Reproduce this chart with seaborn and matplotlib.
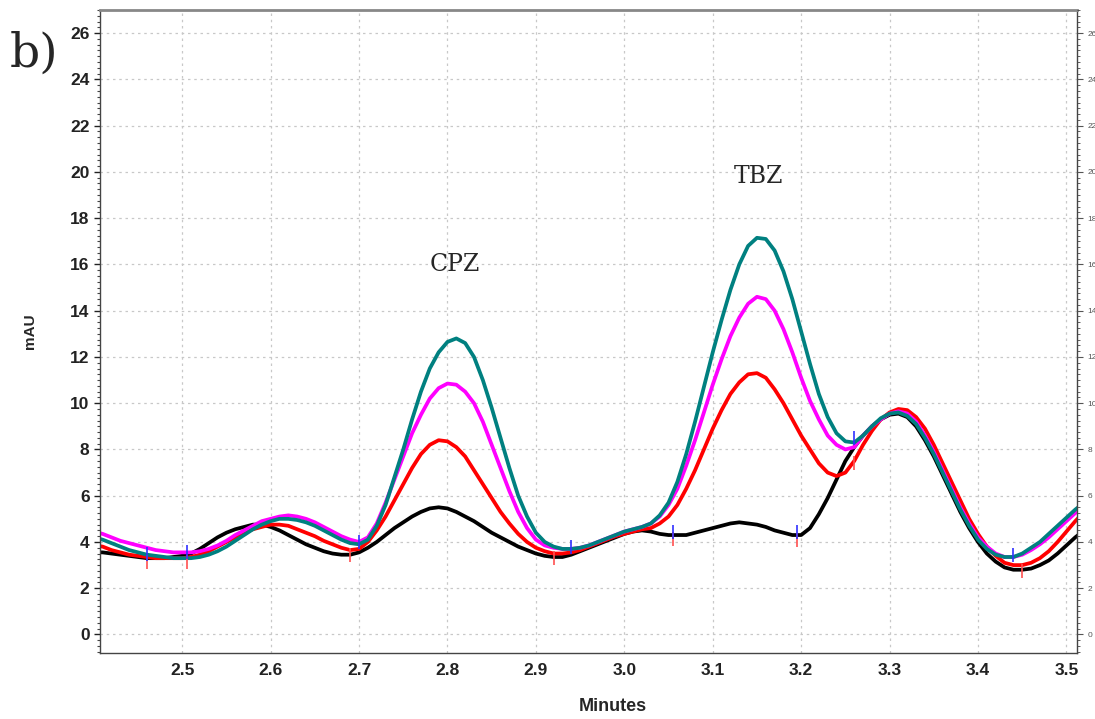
import numpy as np
import pandas as pd
import seaborn as sns
import matplotlib.pyplot as plt
from matplotlib.ticker import MultipleLocator

# retention time grid (minutes)
minutes = [round(2.40 + 0.01 * i, 2) for i in range(113)]

black = [3.55, 3.55, 3.5, 3.45, 3.4, 3.35, 3.3, 3.3, 3.3, 3.35,
         3.4, 3.5, 3.7, 3.95, 4.2, 4.4, 4.55, 4.65, 4.75, 4.75,
         4.65, 4.5, 4.3, 4.1, 3.9, 3.75, 3.6, 3.5, 3.45, 3.45,
         3.55, 3.75, 4.0, 4.3, 4.6, 4.85, 5.1, 5.3, 5.45, 5.5,
         5.45, 5.3, 5.1, 4.9, 4.65, 4.4, 4.2, 4.0, 3.8, 3.65,
         3.5, 3.4, 3.35, 3.35, 3.45, 3.6, 3.75, 3.9, 4.05, 4.2,
         4.35, 4.45, 4.5, 4.45, 4.35, 4.3, 4.3, 4.3, 4.4, 4.5,
         4.6, 4.7, 4.8, 4.85, 4.8, 4.75, 4.65, 4.5, 4.4, 4.3,
         4.3, 4.6, 5.2, 5.9, 6.7, 7.5, 8.1, 8.6, 9.0, 9.3,
         9.5, 9.55, 9.4, 9.0, 8.4, 7.7, 6.9, 6.1, 5.3, 4.6,
         4.0, 3.5, 3.15, 2.9, 2.8, 2.8, 2.85, 3.0, 3.2, 3.5,
         3.85, 4.2, 4.5]

red = [3.85, 3.8, 3.65, 3.55, 3.45, 3.4, 3.35, 3.3, 3.3, 3.3,
       3.3, 3.35, 3.45, 3.6, 3.8, 4.0, 4.2, 4.4, 4.55, 4.65,
       4.75, 4.75, 4.7, 4.55, 4.4, 4.25, 4.05, 3.9, 3.75, 3.65,
       3.7, 4.0, 4.5, 5.1, 5.8, 6.5, 7.2, 7.8, 8.2, 8.4,
       8.35, 8.1, 7.7, 7.1, 6.5, 5.9, 5.3, 4.8, 4.35, 4.0,
       3.75, 3.6, 3.5, 3.5, 3.55, 3.65, 3.8, 3.95, 4.1, 4.25,
       4.35, 4.45, 4.55, 4.6, 4.8, 5.1, 5.6, 6.3, 7.1, 8.0,
       8.9, 9.7, 10.4, 10.9, 11.25, 11.3, 11.1, 10.6, 10.0, 9.3,
       8.6, 8.0, 7.4, 7.0, 6.85, 7.0, 7.5, 8.2, 8.8, 9.3,
       9.6, 9.75, 9.7, 9.4, 8.9, 8.2, 7.4, 6.6, 5.8, 5.0,
       4.35, 3.8, 3.4, 3.1, 3.0, 3.0, 3.1, 3.3, 3.6, 4.0,
       4.45, 4.9, 5.3]

magenta = [4.45, 4.35, 4.2, 4.05, 3.95, 3.85, 3.75, 3.65, 3.6, 3.55,
           3.55, 3.55, 3.6, 3.7, 3.85, 4.05, 4.3, 4.5, 4.7, 4.9,
           5.0, 5.1, 5.15, 5.1, 5.0, 4.85, 4.65, 4.45, 4.25, 4.1,
           4.0, 4.2, 4.8, 5.7, 6.7, 7.7, 8.7, 9.5, 10.2, 10.65,
           10.85, 10.8, 10.5, 10.0, 9.2, 8.2, 7.2, 6.2, 5.3, 4.6,
           4.1, 3.85, 3.75, 3.7, 3.7, 3.75, 3.85, 4.0, 4.15, 4.3,
           4.45, 4.55, 4.65, 4.8, 5.1, 5.6, 6.3, 7.3, 8.4, 9.6,
           10.8, 11.9, 12.9, 13.7, 14.3, 14.6, 14.5, 14.0, 13.2, 12.2,
           11.1, 10.1, 9.3, 8.6, 8.2, 8.0, 8.1, 8.6, 9.0, 9.3,
           9.55, 9.65, 9.55, 9.2, 8.6, 7.9, 7.1, 6.3, 5.5, 4.8,
           4.2, 3.8, 3.5, 3.35, 3.35, 3.45, 3.65, 3.9, 4.2, 4.55,
           4.9, 5.25, 5.6]

teal = [4.2, 4.1, 3.95, 3.8, 3.65, 3.55, 3.45, 3.4, 3.35, 3.3,
        3.3, 3.3, 3.35, 3.45, 3.6, 3.8, 4.05, 4.3, 4.55, 4.75,
        4.9, 5.0, 5.0, 4.95, 4.85, 4.7, 4.5, 4.3, 4.1, 3.95,
        3.9, 4.1, 4.7, 5.6, 6.8, 8.0, 9.3, 10.5, 11.5, 12.2,
        12.65, 12.8, 12.6, 12.0, 11.0, 9.8, 8.5, 7.2, 6.0, 5.1,
        4.4, 4.0, 3.8, 3.7, 3.7, 3.75, 3.85, 4.0, 4.15, 4.3,
        4.45, 4.55, 4.65, 4.8, 5.15, 5.7, 6.6, 7.8, 9.2, 10.7,
        12.2, 13.6, 14.9, 16.0, 16.8, 17.15, 17.1, 16.6, 15.7, 14.5,
        13.1, 11.7, 10.4, 9.4, 8.7, 8.35, 8.3, 8.6, 9.0, 9.35,
        9.55, 9.6, 9.45, 9.1, 8.5, 7.8, 7.0, 6.2, 5.4, 4.7,
        4.1, 3.7, 3.45, 3.35, 3.35, 3.5, 3.75, 4.0, 4.35, 4.7,
        5.05, 5.4, 5.7]

series_names = ['black', 'red', 'magenta', 'teal']
series_colors = ['black', '#ff0000', '#ff00ff', '#008080']

# integration tick marks
red_mark_x = [2.46, 2.505, 2.69, 2.92, 3.055, 3.195, 3.26, 3.45]
red_mark_y = [3.15, 3.15, 3.45, 3.3, 4.15, 4.1, 7.4, 2.75]
blue_mark_x = [2.46, 2.505, 2.70, 2.94, 3.055, 3.195, 3.26, 3.44]
blue_mark_y = [3.5, 3.55, 4.0, 3.8, 4.45, 4.45, 8.5, 3.45]

y_ticks = list(range(0, 27, 2))
x_ticks = [2.5, 2.6, 2.7, 2.8, 2.9, 3.0, 3.1, 3.2, 3.3, 3.4, 3.5]

df = pd.DataFrame({
    'Minutes': minutes * 4,
    'mAU': black + red + magenta + teal,
    'trace': sum([[n] * len(minutes) for n in series_names], []),
})

sns.set_style('white')
plt.rcParams['font.family'] = ['Liberation Sans', 'DejaVu Sans']

fig = plt.figure(figsize=(10.95, 7.19), dpi=100)
ax = fig.add_axes([0.0913, 0.0918, 0.8923, 0.8943])

sns.lineplot(data=df, x='Minutes', y='mAU', hue='trace', hue_order=series_names,
             palette=dict(zip(series_names, series_colors)), linewidth=2.7,
             legend=False, ax=ax, sort=False)

ax.plot(red_mark_x, red_mark_y, linestyle='none', marker='|', color='#ff5050',
        markersize=10, markeredgewidth=1.2)
ax.plot(blue_mark_x, blue_mark_y, linestyle='none', marker='|', color='#3030ff',
        markersize=10, markeredgewidth=1.2)

ax.set_xlim(2.407, 3.512)
ax.set_ylim(-0.8, 27)
ax.set_xticks(x_ticks)
ax.set_xticklabels([f'{v:.1f}' for v in x_ticks])
ax.set_yticks(y_ticks)
ax.xaxis.set_minor_locator(MultipleLocator(0.01))
ax.yaxis.set_minor_locator(MultipleLocator(0.25))
ax.grid(True, which='major', linestyle=(0, (2, 3)), color='#c8c8c8', linewidth=0.9)
ax.tick_params(axis='both', which='major', direction='out', length=4, width=1,
               labelsize=12.5, colors='#222222')
ax.tick_params(axis='both', which='minor', direction='out', length=2.5, width=0.8,
               colors='#444444')
for lbl in ax.get_xticklabels() + ax.get_yticklabels():
    lbl.set_fontweight('bold')
ax.tick_params(axis='x', pad=3)

for side in ['left', 'bottom', 'right']:
    ax.spines[side].set_color('#444444')
    ax.spines[side].set_linewidth(1.0)
ax.spines['top'].set_color('#888888')
ax.spines['top'].set_linewidth(2)

ax.set_xlabel('Minutes', fontsize=13, fontweight='bold', va='center')
ax.xaxis.set_label_coords(0.525, -0.083)
ax.set_ylabel('mAU', fontsize=11, fontweight='bold', labelpad=24)

# right-hand axis copy
ax2 = ax.twinx()
ax2.set_ylim(ax.get_ylim())
ax2.set_yticks(y_ticks)
ax2.yaxis.set_minor_locator(MultipleLocator(0.25))
ax2.tick_params(axis='y', which='major', direction='out', length=4, labelsize=6,
                colors='#555555')
ax2.tick_params(axis='y', which='minor', direction='out', length=2.5, colors='#444444')
for side in ['left', 'bottom', 'right', 'top']:
    ax2.spines[side].set_visible(False)

ax.text(2.808, 16.0, 'CPZ', fontsize=17, family='DejaVu Serif', ha='center', va='center')
ax.text(3.152, 19.8, 'TBZ', fontsize=17, family='DejaVu Serif', ha='center', va='center')
fig.text(0.009, 0.925, 'b)', fontsize=34, family='DejaVu Serif', ha='left', va='center')

plt.savefig('out.png', dpi=100)
